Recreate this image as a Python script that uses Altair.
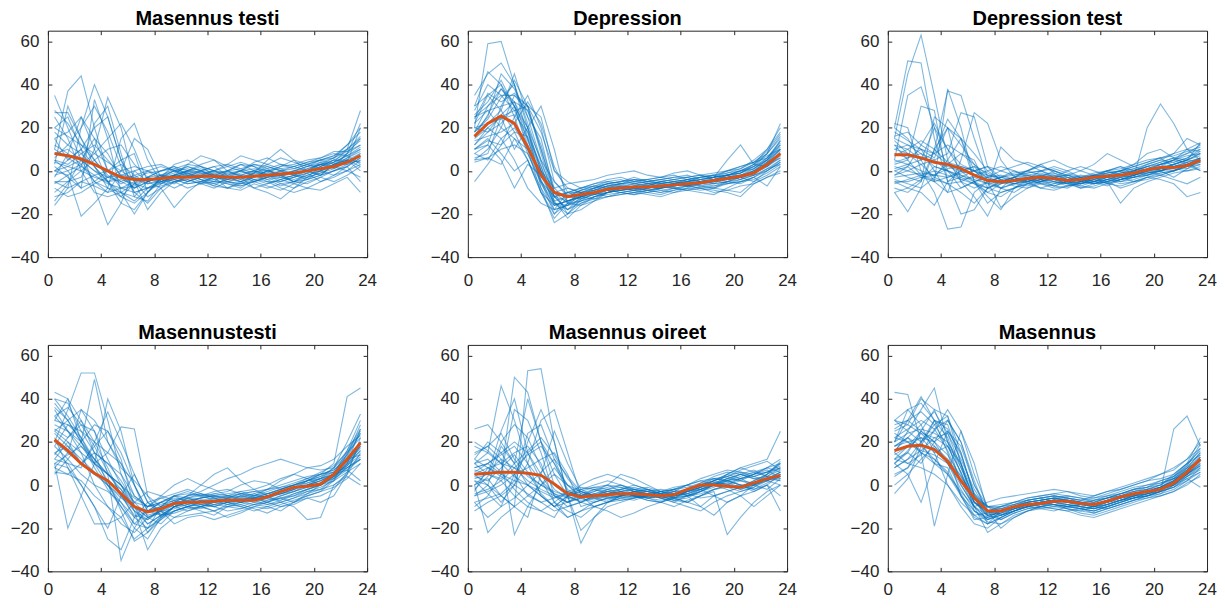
import altair as alt
import pandas as pd

HOURS = [0.5, 1.5, 2.5, 3.5, 4.5, 5.5, 6.5, 7.5, 8.5, 9.5, 10.5, 11.5,
         12.5, 13.5, 14.5, 15.5, 16.5, 17.5, 18.5, 19.5, 20.5, 21.5, 22.5, 23.5]
X_TICKS = [0, 4, 8, 12, 16, 20, 24]
Y_TICKS = [-40, -20, 0, 20, 40, 60]
TITLES = ["Masennus testi", "Depression", "Depression test",
          "Masennustesti", "Masennus oireet", "Masennus"]

# ---------------- Panel 1: Masennus testi ----------------
P1_MEAN = [8, 7, 5.5, 3, 0, -3, -4, -4, -3.5, -3, -3, -2.5, -2.5, -3, -3, -2.5, -2, -1.5, -1, 0, 1, 2, 4, 7]
P1_LINES = [
    [35, 20, 5, -5, -8, -10, -6, -3, -2, 0, -1, -3, -2, -4, -3, -1, 2, 0, -2, 1, 3, 5, 8, 15],
    [27, 27, 15, 2, -5, -10, -12, -5, -2, -3, 0, 2, -2, -5, -6, -3, 0, -2, -5, -3, 2, 4, 10, 28],
    [-16, -8, 20, 40, 25, 5, -10, -8, -5, -3, -5, -2, 0, -3, -5, -8, -6, -4, -2, 0, -2, 3, 5, 2],
    [10, 37, 44, 20, 0, -5, -8, -5, -3, -1, 2, 0, -3, -4, -2, 0, 3, 1, -2, -4, 0, 2, 6, 10],
    [5, 0, -8, 33, 15, -10, -20, -10, -3, 0, 1, -1, -2, 0, 3, 0, -2, -3, -5, -1, 2, 5, 4, 20],
    [-5, -5, -3, 10, 34, 20, -5, -12, -8, -5, -4, -6, -3, -1, 0, 3, 1, -3, -4, -2, 0, -2, 0, 5],
    [0, -2, -21, -15, -8, 15, 22, 5, -5, -8, -5, -3, -5, -6, -8, -4, -3, -6, -8, -5, -3, 0, 2, -5],
    [12, 8, 3, -5, -10, 0, 15, 10, -3, -2, 0, 3, 5, 2, 0, -2, -4, -3, 0, 2, 3, 1, 5, 8],
    [20, 25, 10, -8, -25, -15, 0, -5, -8, -17, -10, -5, -3, -5, -7, -5, -3, -2, -5, -4, -2, 3, 8, 12],
    [-12, -10, -5, -2, 0, 5, 8, -10, -5, -2, 3, 7, 5, 0, -3, -8, -10, -13, -8, -3, -1, 2, 5, 0],
    [8, 10, 5, 0, -3, -2, -3, -5, -3, -5, -8, -6, -5, -5, -6, -4, -5, -8, -10, -8, -9, -6, -3, -10],
    [-5, -8, -5, -7, -10, -8, -7, -3, 0, 2, 0, -2, 0, 3, 7, 5, 3, 6, 4, 2, 5, 7, 10, 15],
    [15, 5, 10, 20, 25, 5, -5, -18, -10, -5, -3, 0, -2, -3, -5, -3, 0, 2, 3, 5, 6, 8, 7, 3],
    [3, 30, 15, 5, -3, -5, -2, 0, -4, -6, -2, 0, 2, -2, -4, -1, 5, 10, 5, 0, -2, 0, 2, 6],
    [-10, -5, 0, 5, 10, 12, 3, -3, -6, -3, -1, -4, -7, -3, 0, -2, -5, -5, -3, 0, 4, 2, 8, 22],
    [25, 15, 0, -10, -12, -10, -14, -8, -4, -2, -5, -3, -1, 0, -2, -5, -3, 0, 2, 4, 6, 9, 9, 12],
    [5, 3, 8, 12, 5, -2, -8, -3, 0, 2, -2, -4, -5, 0, 3, 2, -2, -5, -3, -1, -5, -3, 0, 3],
    [-3, 8, 25, 15, 0, -8, -5, -3, -5, -4, -6, -5, -3, -8, -9, -6, -8, -6, -5, -2, 0, 3, 3, 7],
    [18, 12, 8, 2, -5, -12, -15, -10, -3, 3, 5, 2, 0, -2, 0, 4, 6, 3, 1, 3, 5, 7, 12, 18],
    [0, 2, 5, 0, -5, -2, 0, 2, 3, 0, -2, -4, -6, -8, -5, -2, -4, -7, -5, -6, -3, -5, -2, 2],
    [2, -3, -8, -5, 0, 3, -2, -6, -4, -2, 0, 1, -1, -3, -4, -2, 0, 1, 2, 4, 5, 3, 6, 9],
    [-8, -12, -10, -6, -3, 0, 2, 0, -2, -4, -6, -5, -7, -8, -6, -5, -7, -9, -6, -4, -2, 0, 3, 5],
    [6, 12, 20, 30, 18, 2, -10, -15, -8, -3, -1, 0, 2, 3, 1, -1, -2, 0, 1, 3, 5, 6, 9, 14],
    [-2, 0, 3, 8, 15, 22, 10, -5, -3, 0, 2, 0, -2, -4, -5, -3, -1, 2, 5, 3, 1, 4, 7, 11],
    [10, 6, 2, -2, -6, -8, -10, -8, -6, -4, -3, -2, -4, -6, -7, -5, -3, -2, -1, 0, 2, 5, 5, 4],
    [28, 22, 12, 5, -2, -6, -3, -1, 0, 1, -1, -3, -2, 0, 1, 3, 2, 0, -2, 0, 3, 6, 12, 20],
    [-14, -6, 5, 15, 8, -3, -8, -5, -2, 1, 3, 2, 0, -1, -2, -4, -6, -4, -2, -3, -1, 1, 4, 8],
    [4, 2, 0, -3, -5, -4, -6, -8, -7, -5, -4, -6, -8, -5, -3, -1, 1, 3, 2, 0, 3, 2, 0, -3],
    [15, 18, 25, 10, -5, -15, -18, -10, -4, -2, -3, -1, 0, 2, 4, 2, 0, -1, 0, 2, 4, 6, 10, 16],
    [0, 5, 10, 2, -8, -12, -6, 0, 2, 0, -3, -5, -6, -4, -2, 0, -2, -4, -6, -8, -5, -2, 2, 6],
    [20, 16, 12, 8, 4, 0, -4, -6, -5, -3, -2, -3, -4, -3, -1, 0, -1, -2, 0, 1, 3, 4, 7, 10],
    [-6, -2, 2, 22, 30, 8, -12, -14, -6, -2, 0, -1, -3, -2, 0, 1, 0, -2, -3, -1, 0, 3, 5, 4],
]

# ---------------- Panel 2: Depression ----------------
P2_MEAN = [16, 22, 25.5, 22, 11, -2, -10, -12, -11, -10, -8.5, -8, -7.5, -7.5, -7, -6.5, -6, -5.5, -4.5, -3.5, -2.5, -1, 3, 8]
P2_LINES = [
    [35, 45, 50, 40, 20, 0, -15, -18, -12, -10, -8, -9, -7, -8, -6, -5, -7, -5, -4, -3, -1, 2, 8, 15],
    [20, 59, 60, 40, 15, -5, -12, -10, -10, -8, -6, -7, -9, -6, -5, -4, -3, -5, -6, -2, 0, 1, 5, 10],
    [5, 10, 20, 35, 30, 10, -10, -20, -15, -12, -10, -8, -6, -7, -9, -10, -8, -6, -5, -4, -3, -5, 0, 5],
    [-5, 3, 12, 25, 35, 20, -5, -12, -13, -11, -9, -10, -11, -9, -8, -6, -5, -7, -8, -9, -10, -5, -2, 2],
    [25, 30, 38, 30, 10, -10, -22, -15, -12, -8, -6, -5, -3, -5, -4, -3, -2, -4, -3, -1, 0, 3, 10, 20],
    [15, 20, 15, 5, -8, -15, -18, -10, -8, -6, -5, -4, -6, -7, -5, -4, -5, -3, -2, 0, 2, 4, 6, 12],
    [28, 40, 35, 28, 15, 0, -8, -6, -5, -4, -2, -1, 0, -2, -3, -1, 0, -2, -4, -2, 0, 3, 8, 22],
    [8, 5, 15, 20, 10, -5, -15, -20, -18, -14, -12, -11, -10, -11, -12, -10, -9, -8, -10, -9, -7, -6, -3, 0],
    [18, 25, 45, 38, 25, 5, -12, -14, -12, -10, -9, -7, -8, -8, -6, -7, -5, -4, -3, 5, 12, 3, 2, 6],
    [10, 15, 8, 0, 5, -10, -20, -12, -9, -7, -8, -6, -5, -4, -6, -7, -6, -5, -4, -6, -4, -2, 4, 10],
    [22, 35, 28, 45, 25, 15, -10, -15, -10, -11, -9, -8, -7, -6, -6, -5, -4, -6, -5, -3, -2, 0, 5, 12],
    [12, 20, 25, 10, 20, 30, 10, -15, -16, -14, -10, -9, -8, -9, -8, -7, -6, -7, -8, -5, -3, -2, 0, 4],
    [25, 28, 30, 32, 20, -8, -24, -20, -13, -9, -7, -6, -8, -7, -5, -6, -4, -3, -2, -4, -3, -1, 2, 8],
    [6, 8, 25, 28, 30, 25, 0, -5, -8, -6, -4, -3, -5, -4, -3, -2, -4, -5, -3, 0, 1, 5, 10, 18],
    [16, 22, 28, 18, 5, -10, -16, -14, -11, -10, -12, -10, -9, -10, -11, -9, -7, -8, -9, -10, -12, -6, -3, -1],
    [30, 35, 40, 25, 8, -5, -20, -15, -14, -12, -10, -8, -7, -8, -7, -6, -7, -6, -4, -2, -4, 0, 3, 6],
    [10, 12, 5, -8, 3, -2, -15, -16, -13, -11, -10, -9, -10, -8, -7, -8, -9, -10, -11, -8, -5, -3, 1, 3],
    [20, 18, 22, 30, 20, 5, -5, -11, -9, -7, -5, -6, -4, -5, -4, -3, -3, -2, -3, -2, 0, 2, 6, 14],
    [5, 6, 3, 15, 10, 0, -12, -18, -15, -13, -10, -8, -9, -7, -8, -6, -7, -5, -6, -5, -6, -3, -7, 2],
    [18, 30, 35, 35, 28, 10, -10, -8, -10, -9, -7, -6, -5, -6, -5, -6, -4, -3, -2, -1, 1, 4, 8, 16],
    [12, 18, 26, 32, 28, 12, -8, -14, -12, -11, -10, -9, -8, -7, -8, -7, -6, -5, -5, -4, -3, -1, 3, 9],
    [22, 28, 20, 15, 5, -8, -18, -16, -14, -12, -11, -10, -9, -10, -9, -8, -9, -7, -6, -5, -4, -2, 1, 5],
    [8, 12, 30, 42, 30, 8, -12, -18, -14, -10, -8, -7, -6, -5, -6, -5, -4, -3, -3, -2, -1, 1, 6, 13],
    [30, 46, 40, 30, 18, 2, -14, -12, -10, -9, -8, -7, -8, -9, -8, -6, -5, -4, -3, -2, -1, 2, 5, 11],
    [14, 16, 18, 22, 32, 22, 2, -10, -12, -10, -9, -8, -7, -6, -7, -8, -7, -6, -5, -4, -3, 0, 4, 8],
    [4, 6, 10, 12, 8, -6, -16, -14, -12, -13, -12, -11, -10, -9, -10, -9, -8, -9, -8, -6, -5, -3, 0, 4],
    [26, 32, 42, 30, 12, -4, -18, -16, -11, -9, -7, -6, -6, -5, -4, -5, -6, -5, -4, -3, -2, 0, 4, 10],
    [18, 24, 34, 40, 22, 4, -12, -10, -8, -7, -6, -5, -4, -4, -3, -4, -3, -2, -1, 0, 2, 4, 9, 17],
    [10, 14, 12, 18, 16, 2, -14, -22, -16, -12, -10, -9, -8, -9, -10, -8, -7, -6, -7, -6, -5, -4, -1, 3],
    [24, 36, 32, 36, 30, 18, 0, -8, -10, -8, -7, -8, -9, -8, -7, -6, -7, -8, -7, -5, -3, -1, 2, 7],
    [20, 22, 24, 26, 18, 0, -16, -14, -12, -10, -9, -10, -11, -10, -8, -7, -6, -5, -4, -3, -2, 1, 5, 14],
    [16, 26, 38, 32, 14, -2, -10, -12, -9, -8, -6, -5, -4, -6, -7, -6, -5, -4, -3, -2, -1, 3, 7, 10],
]

# ---------------- Panel 3: Depression test ----------------
P3_MEAN = [7.5, 7.5, 6, 4, 3, 1, -2, -4.5, -5, -4.5, -3.5, -3, -3.5, -4.5, -4, -3, -2.5, -2, -1, 0.5, 1.5, 1.5, 2.5, 5]
P3_LINES = [
    [15, 45, 63, 35, 5, -5, -8, -5, -3, -2, 0, 3, -1, -4, -6, -3, 0, 2, -2, 0, 3, 5, 8, 10],
    [20, 51, 50, 15, -5, -3, 0, -5, -8, -6, -4, -5, -3, -2, -4, -6, -5, -3, -1, 2, 0, -3, 1, 5],
    [-10, -19, -8, 10, 37, 35, 15, -3, -8, -6, -5, -3, 0, -2, -3, -5, -7, -4, -2, 0, 1, 3, 5, 8],
    [5, 35, 39, 20, 0, -8, -5, -10, -6, -4, -3, -2, -4, -6, -5, -3, -1, 0, 2, 4, 6, 2, 4, 0],
    [-5, -5, -3, -5, 38, 20, -5, -15, -10, -8, -6, -5, -7, -5, -4, -3, -5, -8, -6, -3, -1, 0, 3, 6],
    [22, 20, 0, -10, -27, -26, -10, -5, -3, 0, -3, -5, -3, 0, 2, 0, -2, -4, -3, 20, 31, 22, 10, 5],
    [10, 12, 10, 0, -10, 5, 27, 22, 5, -3, -5, -4, -6, -4, -2, -3, -6, -4, -3, -2, 0, 2, 3, 5],
    [0, -3, -5, 25, 20, -5, -12, -21, -8, -3, 0, -2, -3, -5, -6, -4, -2, -3, -5, -3, -4, -6, -12, -10],
    [15, 12, 8, 2, 0, -2, -5, -8, 11, 5, 3, 0, -3, -5, -4, -2, 0, 2, 0, -2, 1, 3, 5, 13],
    [3, 5, 30, 28, -5, -20, -18, -8, -5, -7, -8, -6, -5, -7, -6, -5, -4, -6, -5, -4, -2, 0, 2, 4],
    [-5, -8, -10, -16, -5, 0, 2, -5, -17, -12, -8, -5, -3, -5, -8, -6, -5, -15, -8, -5, -3, -1, 0, 2],
    [8, 6, 10, 8, 24, 15, 0, -5, -3, -1, 0, 3, 5, 2, 0, -2, -3, -1, 0, 3, 5, 8, 15, 12],
    [-3, -2, -1, -2, 1, 2, 0, -3, -5, -6, -4, -3, -4, -5, -3, -2, -4, -5, -3, -1, 0, 2, 1, 3],
    [20, 15, 5, -5, -10, -8, -5, -3, -2, -4, -5, -8, -6, -5, -7, -8, -6, -4, -2, 0, 2, 5, 10, 13],
    [12, 10, 5, 20, 10, 3, 0, 2, -3, -5, -3, -4, -7, -8, -5, -3, -2, -1, 0, 2, 4, 6, 5, 8],
    [0, 2, -3, -2, 3, 8, 5, -8, -10, -8, -6, -4, -3, -2, 0, 3, 8, 5, 2, 0, -2, 0, 3, 5],
    [-8, -10, -5, 10, 20, 15, -5, -12, -18, -8, -4, 0, 2, 0, -3, -5, -2, 0, 3, 8, 10, 6, 3, 0],
    [5, 3, 0, -2, -3, -1, 0, 2, 0, -2, -1, 0, -2, -4, -3, -1, 0, -2, -3, -1, 0, 2, 4, 6],
    [-2, 0, 3, 5, 8, 27, 25, 2, -5, -3, 0, 2, 0, -3, -5, -6, -4, -2, -1, 1, 3, 4, 6, 9],
    [14, 8, 3, -3, -6, -10, -15, -8, -5, -3, -6, -8, -9, -7, -5, -4, -6, -7, -5, -3, -2, -4, -6, -3],
    [4, 6, 8, 5, 0, -4, -6, -8, -6, -4, -2, -3, -5, -6, -4, -2, -1, 0, -2, 1, 3, 5, 4, 6],
    [-6, -4, -2, 0, -2, -4, -3, -6, -8, -10, -6, -4, -5, -6, -7, -5, -4, -3, -2, 0, 2, 3, 5, 7],
    [10, 8, 6, 4, 2, 0, -2, -4, -5, -3, -1, 0, 1, -1, -3, -4, -2, 0, 2, 4, 6, 8, 10, 9],
    [18, 14, 10, 6, 20, 12, 3, -2, -4, -5, -4, -6, -7, -5, -3, -2, -3, -1, 1, 3, 5, 4, 6, 10],
    [-2, 2, 12, 22, 10, 0, -5, -3, 0, 2, 4, 2, 0, -2, -4, -5, -3, -2, 0, 2, 4, 6, 8, 12],
    [2, 0, -2, -4, -6, -5, -2, 0, 2, 0, -2, -4, -3, -5, -6, -4, -3, -5, -4, -2, -1, 0, 2, 3],
    [7, 10, 14, 10, 4, 2, 0, -2, -3, -4, -3, -2, -1, -3, -4, -6, -5, -3, -2, -1, 1, 3, 5, 4],
    [-4, -6, -8, -3, 5, 15, 8, 0, -4, -6, -5, -3, -2, -4, -5, -3, -1, 0, 1, -1, 0, 2, 3, 6],
    [12, 5, -2, -5, -3, 0, 2, -1, -4, -6, -7, -5, -4, -3, -5, -6, -4, -2, 0, 2, 3, 5, 7, 8],
    [1, 3, 5, 8, 12, 8, 3, -4, -6, -5, -4, -6, -8, -7, -6, -5, -3, -4, -2, 0, 1, 0, 2, 4],
    [16, 18, 12, 8, 3, -2, -4, -6, -5, -3, -2, -1, -3, -5, -4, -2, 0, 1, 3, 5, 6, 7, 9, 11],
    [-10, -8, -4, 2, 0, -3, -6, -10, -12, -8, -5, -3, -4, -6, -8, -7, -5, -4, -3, -2, 0, 1, 0, 1],
]

# ---------------- Panel 4: Masennustesti ----------------
P4_MEAN = [21, 16, 10, 5.5, 2, -4, -10, -12.5, -11, -8.5, -8, -8, -7.5, -7, -7, -7, -5.5, -3, -1, -0.5, 0.5, 5, 12, 19.5]
P4_LINES = [
    [43, 40, 30, 15, 0, -10, -20, -25, -15, -10, -8, -10, -12, -9, -8, -6, -4, -2, 0, 2, 5, 10, 41, 45],
    [20, 35, 52, 52, 30, 5, -10, -12, -10, -5, -6, -8, -10, -8, -5, -6, -8, -5, -3, 0, 3, 8, 20, 33],
    [10, -20, -5, 10, 40, 25, 0, -15, -18, -12, -10, -12, -14, -10, -8, -9, -10, -12, -8, -5, -3, 2, 15, 25],
    [38, 30, 20, 49, 20, 10, -5, -10, -8, -5, -3, -5, -7, -5, -3, -2, 0, 3, 5, 8, 9, 12, 18, 23],
    [15, 10, 0, -10, -25, -30, -15, -8, -6, -8, -10, -9, -8, -6, -5, -7, -6, -3, -1, 0, 2, 5, 12, 18],
    [30, 40, 20, 10, 15, 27, 26, -5, -15, -10, -8, -6, -5, -4, -3, -5, -6, -4, -2, 2, 5, 6, 8, 12],
    [8, 15, 35, 25, 5, -35, -20, -10, -5, 0, 3, 0, -2, -5, -7, -5, -2, 2, 5, 3, 0, 4, 10, 20],
    [25, 20, 10, 5, 0, -5, -12, -30, -20, -15, -12, -10, -12, -15, -13, -10, -8, -6, -5, -3, -2, 0, 5, 15],
    [35, 25, 15, 0, -10, -18, -22, -15, -12, -8, -5, -3, 0, 3, 5, 8, 10, 12, 10, 8, 7, 8, 14, 28],
    [12, 20, 15, 10, 5, 0, -10, -15, -12, -18, -15, -14, -16, -14, -12, -10, -11, -9, -7, -5, -3, -1, 3, 10],
    [40, 38, 25, 15, 10, 5, -5, -10, -8, -10, -12, -10, -8, -6, -4, -6, -8, -10, -9, -6, -8, -5, 5, 22],
    [18, 12, 5, 0, -3, -8, -15, -12, -8, -5, -4, -5, -3, -2, -4, -5, -3, -1, 0, 3, 5, 7, 12, 14],
    [6, 5, 2, -5, -10, -15, -25, -20, -10, -5, -8, -6, -4, -3, 0, 2, 1, -2, 0, 1, 3, 5, 7, 2],
    [25, 30, 35, 30, 20, 8, 2, -5, -10, -8, -5, 0, 5, 8, 2, -2, -5, -8, -10, -16, -15, 0, 4, 0],
    [15, 18, 10, 5, 2, -2, -10, -18, -14, -12, -10, -8, -6, -8, -10, -12, -10, -8, -6, -4, -2, 3, 10, 26],
    [22, 8, -5, -18, -18, -15, -8, -3, -5, -7, -9, -10, -8, -7, -6, -8, -9, -7, -4, -2, 0, 4, 8, 13],
    [30, 28, 25, 20, 15, 10, 0, -12, -14, -10, -6, -4, -5, -6, -8, -6, -4, -2, 0, 2, 4, 6, 11, 17],
    [10, 8, 0, -10, -20, -5, 5, -8, -12, -15, -14, -13, -12, -10, -9, -11, -13, -10, -8, -6, -5, -2, 6, 20],
    [32, 25, 18, 10, 5, 0, -8, -10, -6, -4, -2, -4, -6, -8, -7, -5, -4, -3, -1, 2, 3, 5, 16, 30],
    [5, 12, 20, 28, 25, 12, -10, -22, -16, -10, -8, -9, -10, -12, -11, -9, -7, -6, -8, -4, 0, 5, 9, 16],
    [28, 25, 20, 12, 5, -2, -12, -18, -14, -10, -8, -9, -10, -8, -7, -6, -5, -3, -1, 0, 2, 5, 12, 20],
    [14, 22, 30, 20, 8, -5, -14, -16, -12, -9, -7, -6, -5, -7, -8, -6, -5, -4, -2, 1, 3, 6, 14, 24],
    [36, 30, 20, 8, -2, -10, -18, -20, -15, -12, -10, -11, -9, -8, -6, -7, -9, -8, -6, -3, -1, 2, 9, 18],
    [20, 15, 10, 18, 25, 15, 0, -12, -10, -7, -5, -4, -6, -8, -9, -7, -5, -4, -2, 0, 1, 3, 8, 12],
    [8, 5, 10, 15, 10, 2, -8, -14, -12, -11, -9, -7, -6, -5, -4, -3, -2, -1, 1, 3, 6, 9, 15, 22],
    [32, 36, 28, 18, 6, -4, -15, -20, -16, -12, -10, -8, -7, -9, -10, -8, -6, -4, -3, -1, 1, 4, 10, 16],
    [24, 18, 12, 6, 0, -8, -18, -12, -8, -6, -7, -8, -9, -7, -5, -4, -6, -7, -5, -2, 0, 3, 7, 12],
    [12, 10, 8, 20, 34, 20, 5, -8, -14, -13, -11, -10, -9, -10, -11, -9, -8, -6, -4, -2, 0, 2, 6, 10],
    [40, 32, 22, 10, 0, -6, -10, -15, -13, -9, -6, -5, -4, -5, -6, -4, -2, 0, 2, 4, 5, 7, 13, 24],
    [18, 28, 22, 12, 2, -12, -26, -22, -14, -10, -9, -7, -8, -9, -7, -6, -7, -5, -3, -1, 0, 4, 11, 18],
    [10, 14, 18, 12, 5, 0, -6, -10, -9, -7, -6, -7, -8, -6, -4, -3, -4, -2, 0, 2, 4, 8, 16, 26],
    [26, 22, 28, 25, 12, 0, -12, -16, -11, -8, -7, -6, -5, -6, -8, -7, -5, -3, -1, 0, 2, 5, 9, 14],
]

# ---------------- Panel 5: Masennus oireet ----------------
P5_MEAN = [5, 5.5, 6, 6, 5.5, 4.5, 0.5, -4, -5.5, -5, -4.5, -4, -4, -4.5, -5, -4.5, -2, 0, 0, -0.5, -1, 1, 3, 4.5]
P5_LINES = [
    [26, 28, 20, 10, 0, -5, -10, -15, -12, -8, -6, -5, -4, -6, -5, -3, -2, 0, 2, 5, 3, 0, 5, 8],
    [10, 15, 46, 30, 10, -5, -10, -5, -3, -6, -8, -5, -3, -4, -6, -8, -5, -3, 0, 2, 5, 3, 4, 2],
    [-10, -5, 5, 50, 43, 20, 0, -5, -27, -15, -8, -5, -3, -4, -5, -6, -3, 0, 3, 2, 0, -3, 0, 5],
    [5, 0, -5, -10, 53, 54, 20, -5, -8, -5, -2, 0, -3, -5, -3, -1, 0, -2, -5, -8, -5, 0, 3, 6],
    [-12, -8, -5, 0, 10, 30, 35, 15, -5, -10, -8, -6, -5, -7, -8, -5, -3, -1, 2, 5, 8, 10, 12, 25],
    [0, -22, -15, -10, -5, 0, 5, -5, -21, -15, -10, -8, -6, -4, -3, -2, -5, -10, -14, -8, -5, -3, 0, -12],
    [15, 18, 12, -23, -10, 0, 8, 0, -3, -5, -4, -3, -5, -6, -8, -10, -7, -5, -3, -23, -15, -8, -3, 0],
    [8, 10, 5, 35, 30, 15, -5, -10, -8, -5, -3, -2, 0, -2, -3, -4, -2, 0, 2, 0, -2, 0, 3, 4],
    [-5, 0, 18, 10, 40, 20, 5, 0, -5, -3, 0, 5, 3, 0, -3, -6, -8, -5, -2, 0, 3, 5, 8, 10],
    [12, 20, 15, 5, -5, -8, -12, -10, -8, -6, -5, -6, -7, -5, -4, -3, -4, -6, -5, -3, -1, 0, 2, 5],
    [5, 8, 10, 15, 18, 10, -8, -15, -12, -10, -12, -15, -13, -10, -8, -6, -5, -3, 0, 3, 5, 7, 4, 3],
    [-8, -15, -10, 5, 15, 20, 10, -3, -5, -3, -1, 0, -2, -3, -4, -2, 0, 3, 5, 7, 6, 4, 2, 0],
    [10, 5, 25, 40, 15, 5, -5, -8, -5, -2, 0, -3, -5, -6, -5, -3, 0, 2, 0, -2, -5, -10, -5, 0],
    [3, 5, 2, -5, -10, -12, -15, -5, 0, 3, 5, 3, 0, -2, -4, -6, -8, -10, -5, -3, -1, 2, 5, 10],
    [18, 15, 10, 8, 5, 0, -3, -5, -8, -10, -8, -6, -5, -4, -5, -7, -8, -5, -2, 0, 2, 5, 8, 12],
    [-5, -3, 0, 5, 8, 12, 15, 5, -10, -8, -6, -5, -4, -3, -2, -3, -5, -4, -2, -1, 0, -2, 0, -5],
    [0, 3, -5, -10, -15, 5, 25, 10, -2, -5, -4, -2, -1, -3, -5, -4, -2, 1, 3, 4, 2, 0, -2, 3],
    [8, 10, 15, 20, 15, 2, -8, -12, -15, -10, -8, -7, -6, -5, -6, -8, -10, -12, -8, -5, -3, -1, 2, 6],
    [2, 0, -8, 0, 20, 35, 20, -5, -3, -1, 0, -1, -3, -2, -4, -5, -3, -2, 0, 5, 8, 6, 4, 8],
    [-3, 8, 5, 2, 0, -5, -10, -5, -2, 0, 2, 0, -2, -4, -6, -5, -3, -1, 2, 4, 7, 9, 11, 7],
    [6, 10, 14, 18, 10, 2, -4, -8, -6, -4, -3, -4, -5, -4, -3, -5, -4, -2, 0, 2, 3, 5, 6, 8],
    [-4, -2, 2, 8, 14, 18, 10, 0, -6, -8, -6, -5, -4, -6, -7, -6, -4, -1, 1, 0, -2, 0, 2, 4],
    [12, 8, 4, 0, -4, -8, -6, -3, -5, -7, -5, -3, -2, -3, -5, -7, -6, -3, 0, 3, 5, 4, 6, 9],
    [0, 6, 12, 8, 2, -2, -5, -8, -4, -2, -3, -5, -6, -5, -3, -2, -1, 1, 4, 6, 5, 3, 2, 5],
    [20, 16, 10, 4, 0, -3, -6, -4, -2, -1, -2, -4, -5, -6, -5, -4, -2, 0, 1, -1, -3, -1, 3, 6],
    [-8, -6, -4, 2, 24, 28, 12, -2, -6, -5, -4, -3, -5, -7, -8, -6, -3, -1, 0, 1, 3, 4, 6, 10],
    [4, 2, 8, 14, 6, -4, -10, -8, -6, -4, -2, -1, -3, -4, -6, -5, -2, 0, 2, 4, 6, 5, 7, 3],
    [10, 12, 6, -2, -8, -12, -8, -3, -1, -2, -4, -3, -2, -1, -3, -4, -3, -1, 1, 2, 0, -2, 1, 4],
    [-2, 4, 20, 28, 22, 8, -2, -6, -7, -6, -5, -4, -3, -2, -4, -6, -5, -3, -1, 2, 4, 6, 8, 6],
    [14, 18, 24, 12, 4, 0, -4, -6, -5, -4, -6, -7, -6, -5, -4, -2, 0, 2, 3, 2, 0, 1, 4, 7],
    [2, -4, -10, -6, 0, 6, 12, 4, -3, -5, -3, -2, -4, -5, -6, -7, -5, -2, 0, 1, -1, 2, 5, 11],
    [7, 5, 3, 10, 16, 22, 14, 3, -4, -6, -7, -5, -3, -3, -4, -5, -4, -2, 1, 3, 2, 1, 3, 2],
]

# ---------------- Panel 6: Masennus ----------------
P6_MEAN = [16, 18, 18.5, 16.5, 11, 2, -6, -12, -12, -10, -9, -8.5, -7.5, -7.5, -8.5, -9, -7.5, -5.5, -4, -3, -2, 1, 6, 12]
P6_LINES = [
    [43, 42, 20, 10, 5, -5, -15, -18, -12, -10, -9, -8, -7, -8, -9, -10, -8, -6, -4, -3, -1, 2, 8, 15],
    [20, 30, 41, 30, 15, -5, -12, -15, -12, -10, -8, -7, -6, -7, -8, -9, -7, -5, -3, -2, 0, 5, 10, 22],
    [15, 25, 35, 45, 20, 0, -10, -14, -13, -11, -9, -8, -9, -10, -11, -12, -10, -8, -6, -5, -3, 2, 6, 13],
    [10, 5, -8, 10, 25, 15, -5, -18, -15, -12, -10, -11, -12, -10, -9, -10, -11, -9, -7, -5, -3, 26, 32, 18],
    [-4, 3, 18, 30, 28, 10, -8, -12, -10, -8, -6, -5, -4, -3, -5, -6, -4, -2, 0, 2, 5, 8, 12, 20],
    [30, 35, 28, 15, 0, -10, -18, -20, -15, -12, -10, -8, -9, -11, -13, -14, -12, -10, -8, -6, -4, -2, 2, 8],
    [12, 18, 25, 20, 30, 20, 0, -10, -14, -12, -10, -9, -8, -7, -8, -9, -7, -5, -3, -1, 2, 4, 10, 16],
    [25, 28, 40, 35, 32, 10, -12, -17, -18, -15, -12, -11, -10, -9, -10, -11, -10, -8, -6, -4, -2, 0, 3, 6],
    [5, 8, 15, -19, 5, 25, 10, -12, -16, -13, -11, -10, -9, -11, -12, -10, -8, -7, -6, -5, -4, 0, 5, 10],
    [18, 22, 15, 10, 8, -5, -16, -15, -12, -10, -7, -6, -5, -6, -7, -5, -3, -2, 0, 2, 3, 5, 10, 14],
    [8, 12, 20, 28, 32, 15, -5, -10, -11, -9, -7, -6, -8, -10, -9, -7, -5, -4, -3, -2, -1, 3, 7, 12],
    [28, 30, 25, 20, 10, 0, -10, -22, -18, -14, -12, -10, -11, -12, -14, -15, -13, -11, -9, -7, -5, -3, 1, 4],
    [15, 10, 8, 5, 0, -8, -14, -13, -12, -10, -8, -7, -6, -5, -6, -7, -6, -4, -2, 0, 1, 3, 5, 9],
    [20, 35, 38, 30, 22, 5, -8, -12, -10, -8, -6, -5, -4, -5, -6, -8, -6, -4, -2, -1, 0, 4, 8, 11],
    [12, 15, 10, 20, 25, 18, 0, -12, -14, -12, -9, -8, -7, -8, -10, -11, -9, -7, -5, -4, -2, 1, 4, 7],
    [22, 20, 15, 12, 5, -3, -10, -8, -6, -5, -4, -3, -2, -3, -4, -5, -3, -1, 1, 3, 5, 7, 12, 17],
    [0, 5, 12, 18, 10, -2, -12, -16, -14, -11, -9, -10, -11, -12, -11, -13, -11, -9, -7, -6, -5, -3, 0, 5],
    [30, 25, 20, 25, 35, 25, 5, -10, -10, -9, -8, -7, -6, -7, -8, -7, -6, -5, -4, -3, -1, 2, 5, 13],
    [10, 15, 25, 35, 20, 8, -5, -12, -20, -15, -12, -10, -8, -9, -11, -12, -10, -8, -6, -4, -3, -1, 3, -1],
    [18, 20, 22, 15, 18, 10, -8, -14, -12, -10, -9, -8, -7, -6, -8, -9, -8, -6, -5, -3, -2, 0, 6, 12],
    [14, 18, 22, 20, 14, 4, -6, -14, -13, -11, -9, -8, -7, -8, -9, -10, -9, -7, -5, -4, -2, 1, 6, 12],
    [22, 26, 30, 26, 16, 2, -10, -16, -14, -12, -10, -9, -8, -9, -10, -11, -9, -7, -5, -3, -1, 2, 7, 14],
    [8, 12, 16, 22, 24, 12, -2, -12, -11, -9, -7, -6, -5, -6, -7, -8, -6, -4, -2, -1, 1, 3, 8, 15],
    [26, 30, 34, 28, 18, 6, -8, -13, -12, -10, -9, -8, -7, -7, -8, -9, -8, -6, -4, -3, -2, 0, 5, 10],
    [12, 10, 14, 26, 30, 20, 2, -14, -16, -13, -11, -10, -9, -10, -11, -12, -10, -8, -6, -5, -3, -1, 4, 9],
    [18, 22, 18, 12, 6, -4, -14, -18, -15, -12, -10, -9, -10, -11, -12, -13, -11, -9, -7, -5, -3, 0, 4, 8],
    [4, 8, 20, 30, 26, 14, -4, -10, -9, -8, -7, -6, -5, -6, -7, -6, -5, -3, -1, 0, 2, 4, 9, 17],
    [24, 20, 16, 14, 10, 2, -8, -12, -11, -10, -8, -7, -6, -7, -9, -10, -9, -7, -6, -4, -3, -1, 2, 6],
    [16, 22, 28, 34, 24, 8, -6, -15, -14, -11, -9, -8, -8, -9, -10, -11, -9, -7, -5, -3, -1, 2, 7, 13],
    [30, 28, 24, 18, 12, 4, -6, -10, -12, -10, -9, -8, -7, -8, -9, -8, -6, -5, -4, -3, -1, 1, 5, 11],
    [10, 16, 24, 22, 18, 6, -10, -16, -13, -10, -8, -7, -6, -7, -8, -9, -7, -6, -4, -2, 0, 3, 9, 19],
    [20, 24, 26, 24, 20, 10, -4, -12, -12, -11, -10, -9, -9, -10, -11, -10, -8, -6, -5, -4, -2, 1, 5, 9],
]

PANEL_LINES = [P1_LINES, P2_LINES, P3_LINES, P4_LINES, P5_LINES, P6_LINES]
PANEL_MEANS = [P1_MEAN, P2_MEAN, P3_MEAN, P4_MEAN, P5_MEAN, P6_MEAN]

BLUE = "#0072BD"
ORANGE = "#D95319"
DARK = "#262626"
FONT = "Liberation Sans"
W, H = 320, 227


def make_panel(title, lines, mean, x_label_pad):
    rows = []
    for i, line in enumerate(lines):
        for h, v in zip(HOURS, line):
            rows.append({"hour": h, "value": v, "subject": i})
    df = pd.DataFrame(rows)
    mdf = pd.DataFrame({"hour": HOURS, "value": mean})

    xs = alt.Scale(domain=[0, 24], nice=False, zero=False)
    ys = alt.Scale(domain=[-40, 65], nice=False, zero=False)
    common = dict(grid=False, domain=False, tickSize=4, offset=-4,
                  tickColor=DARK, tickWidth=1, title=None)
    lab = dict(labelFont=FONT, labelFontSize=17, labelColor=DARK,
               labelFlush=False, labelOverlap=False)

    blue = alt.Chart(df).mark_line(color=BLUE, strokeWidth=1.1, opacity=0.5).encode(
        x=alt.X("hour:Q", scale=xs,
                axis=alt.Axis(orient="bottom", values=X_TICKS, labelPadding=x_label_pad,
                              format="d", **lab, **common)),
        y=alt.Y("value:Q", scale=ys,
                axis=alt.Axis(orient="left", values=Y_TICKS, labelPadding=9, format="d", **lab, **common)),
        detail="subject:N",
    )
    orange = alt.Chart(mdf).mark_line(color=ORANGE, strokeWidth=3).encode(
        x=alt.X("hour:Q", scale=xs,
                axis=alt.Axis(orient="top", values=X_TICKS, labels=False, **common)),
        y=alt.Y("value:Q", scale=ys,
                axis=alt.Axis(orient="right", values=Y_TICKS, labels=False, **common)),
    )
    return (
        alt.layer(blue, orange)
        .resolve_axis(x="independent", y="independent")
        .properties(
            width=W, height=H,
            title=alt.TitleParams(title, font=FONT, fontSize=20, fontWeight="bold",
                                  color="#000000", anchor="middle", frame="group", offset=1),
        )
    )


X_LABEL_PADS = [15, 15, 15, 10, 10, 10]
panels = [make_panel(t, l, m, p)
          for t, l, m, p in zip(TITLES, PANEL_LINES, PANEL_MEANS, X_LABEL_PADS)]

chart = (
    alt.concat(*panels, columns=3, spacing={"row": 88, "column": 101}, bounds="flush")
    .properties(padding={"left": 1, "right": 0, "top": 0, "bottom": 0})
    .configure_view(stroke=DARK, strokeWidth=1)
)

chart.save("out.html", embed_options={"renderer": "svg", "actions": False})
